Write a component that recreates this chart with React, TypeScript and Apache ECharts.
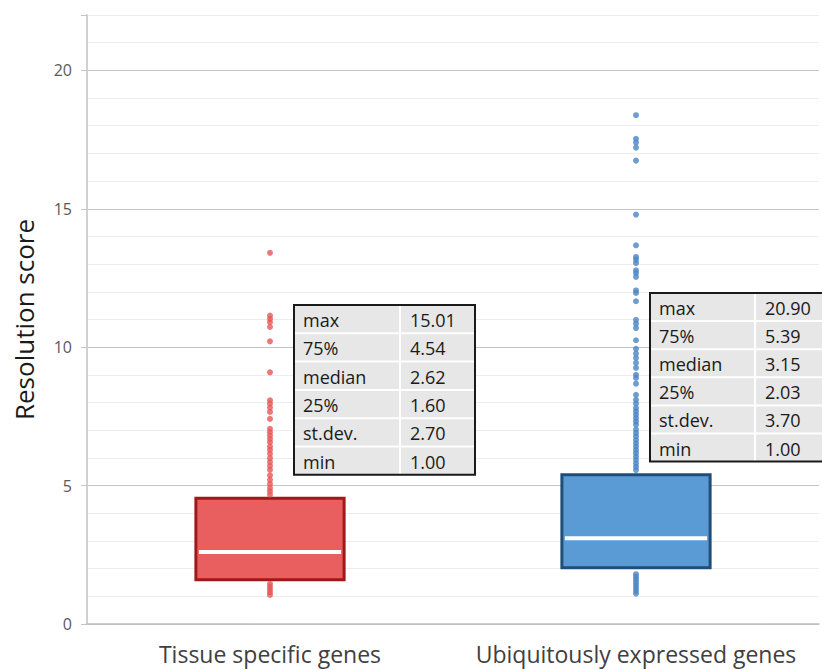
import { useEffect, useRef } from 'react';
import * as echarts from 'echarts';

const categories = ['Tissue specific genes', 'Ubiquitously expressed genes'];
const boxQ1 = [1.6, 2.03];
const boxMedian = [2.6, 3.1];
const boxQ3 = [4.54, 5.39];

const tissueOutliers = [13.41, 11.14, 11.02, 10.9, 10.73, 10.21, 9.09, 8.08, 7.96, 7.82, 7.66, 7.41, 7.05, 6.93, 6.81, 6.69, 6.57, 6.41, 6.29, 6.15, 5.99, 5.85, 5.71, 5.57, 5.37, 5.21, 5.06, 4.91, 4.79, 4.67, 1.45, 1.35, 1.25, 1.15, 1.05];
const ubiqOutliers = [18.38, 17.53, 17.39, 17.21, 16.74, 14.79, 13.68, 13.26, 13.16, 13.04, 12.78, 12.68, 12.54, 12.05, 11.96, 11.66, 10.99, 10.85, 10.69, 10.25, 9.94, 9.77, 9.61, 9.43, 9.25, 9.0, 8.89, 8.68, 8.28, 8.1, 7.96, 7.8, 7.68, 7.56, 7.44, 7.32, 7.2, 7.02, 6.9, 6.78, 6.65, 6.53, 6.41, 6.29, 6.17, 6.05, 5.93, 5.8, 5.68, 5.56, 1.8, 1.7, 1.6, 1.5, 1.4, 1.3, 1.2, 1.1];

const statLabels = ['max', '75%', 'median', '25%', 'st.dev.', 'min'];
const tissueStats = ['15.01', '4.54', '2.62', '1.60', '2.70', '1.00'];
const ubiqStats = ['20.90', '5.39', '3.15', '2.03', '3.70', '1.00'];

const boxFill = ['#E95F5F', '#5B9BD5'];
const boxStroke = ['#9E1A1A', '#1F4E79'];
const dotColor = ['#E65757', '#4A84C4'];

function makeTable(left: number, top: number, w1: number, w2: number, rowH: number, values: string[]) {
  const h = rowH * statLabels.length;
  const children: any[] = [];
  children.push({ type: 'rect', z: 100, shape: { x: left, y: top, width: w1 + w2, height: h }, style: { fill: '#E7E7E7' } });
  for (let i = 1; i < statLabels.length; i++) {
    children.push({ type: 'line', z: 101, shape: { x1: left, y1: top + i * rowH, x2: left + w1 + w2, y2: top + i * rowH }, style: { stroke: '#FFFFFF', lineWidth: 2 } });
  }
  children.push({ type: 'line', z: 101, shape: { x1: left + w1, y1: top, x2: left + w1, y2: top + h }, style: { stroke: '#FFFFFF', lineWidth: 2 } });
  statLabels.forEach((lab, i) => {
    const cy = top + i * rowH + rowH / 2 + 1;
    children.push({ type: 'text', z: 102, style: { text: lab, x: left + 9, y: cy, fill: '#1A1A1A', font: '18px "Open Sans"', align: 'left', verticalAlign: 'middle' } });
    children.push({ type: 'text', z: 102, style: { text: values[i], x: left + w1 + 10, y: cy, fill: '#1A1A1A', font: '18px "Open Sans"', align: 'left', verticalAlign: 'middle' } });
  });
  children.push({ type: 'rect', z: 103, shape: { x: left, y: top, width: w1 + w2, height: h }, style: { fill: 'none', stroke: '#1A1A1A', lineWidth: 2 } });
  return { type: 'group', z: 100, children };
}

export default function App() {
  const ref = useRef<HTMLDivElement>(null);
  useEffect(() => {
    if (!ref.current) return;
    const chart = echarts.init(ref.current, undefined, { renderer: 'svg' });
    const boxData = categories.map((_, i) => [i, boxQ1[i], boxMedian[i], boxQ3[i]]);
    chart.setOption({
      animation: false,
      backgroundColor: '#FFFFFF',
      grid: { left: 87, right: 3, top: 15, bottom: 46 },
      xAxis: {
        type: 'category',
        data: categories,
        axisLine: { show: true, lineStyle: { color: '#BFBFBF', width: 1.5 } },
        axisTick: { show: false },
        axisLabel: { color: '#404040', fontSize: 23, fontFamily: 'Open Sans', margin: 18, interval: 0, hideOverlap: false },
      },
      yAxis: [
        {
          type: 'value',
          min: 0,
          max: 22,
          interval: 1,
          name: 'Resolution score',
          nameLocation: 'middle',
          nameGap: 50,
          nameTextStyle: { color: '#1A1A1A', fontSize: 26, fontFamily: 'Open Sans' },
          axisLine: { show: true, lineStyle: { color: '#D0D0D0', width: 2 } },
          axisTick: { show: false },
          axisLabel: {
            color: '#595959',
            fontSize: 16,
            fontFamily: 'Open Sans',
            margin: 15,
            formatter: (v: number) => (v % 5 === 0 ? String(v) : ''),
          },
          splitLine: {
            show: true,
            lineStyle: { color: ['#C4C4C4', '#EDEDED', '#EDEDED', '#EDEDED', '#EDEDED'], width: 1 },
          },
        },
        {
          type: 'value',
          min: 0,
          max: 22,
          interval: 5,
          position: 'left',
          axisLine: { show: false },
          axisTick: { show: true, length: 6, lineStyle: { color: '#C4C4C4', width: 1 } },
          axisLabel: { show: false },
          splitLine: { show: false },
        },
      ],
      series: [
        {
          type: 'custom',
          data: boxData,
          encode: { x: 0, y: [1, 2, 3] },
          renderItem: (params: any, api: any) => {
            const idx = api.value(0);
            const q1 = api.value(1);
            const med = api.value(2);
            const q3 = api.value(3);
            const pTop = api.coord([idx, q3]);
            const pBot = api.coord([idx, q1]);
            const pMed = api.coord([idx, med]);
            const band = api.size([1, 0])[0];
            const w = band * 0.405;
            const x = pTop[0] - w / 2;
            const i = params.dataIndex;
            return {
              type: 'group',
              children: [
                { type: 'rect', shape: { x, y: pTop[1], width: w, height: pBot[1] - pTop[1] }, style: { fill: boxFill[i], stroke: boxStroke[i], lineWidth: 3 } },
                { type: 'line', shape: { x1: x + 3, y1: pMed[1], x2: x + w - 3, y2: pMed[1] }, style: { stroke: '#FFFFFF', lineWidth: 4 } },
              ],
            };
          },
        },
        {
          type: 'scatter',
          symbolSize: 6,
          itemStyle: { color: dotColor[0] },
          data: tissueOutliers.map((v) => [categories[0], v]),
        },
        {
          type: 'scatter',
          symbolSize: 6,
          itemStyle: { color: dotColor[1] },
          data: ubiqOutliers.map((v) => [categories[1], v]),
        },
      ],
      graphic: [
        makeTable(294, 305, 106, 75, 28.3, tissueStats),
        makeTable(650, 293, 105, 71, 28.1, ubiqStats),
      ],
    });
    return () => chart.dispose();
  }, []);
  return <div ref={ref} style={{ position: 'absolute', left: 0, top: 0, width: 822, height: 670 }} />;
}
